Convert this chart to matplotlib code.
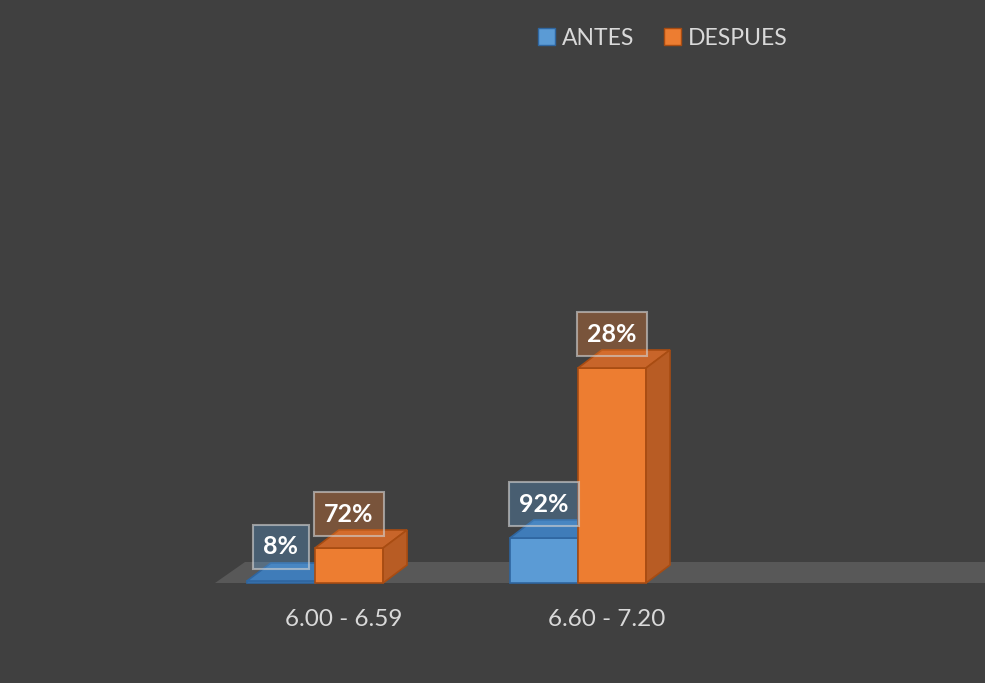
import matplotlib.pyplot as plt
from matplotlib.patches import Polygon, Patch

categories = ["6.00 - 6.59", "6.60 - 7.20"]
antes = [0.2, 4.5]
despues = [3.5, 21.5]
antes_lbl = ["8%", "92%"]
despues_lbl = ["72%", "28%"]

BG = "#404040"
TXT = "#d9d9d9"
series = [
    # front, top, side, edge
    ("ANTES", antes, antes_lbl, ("#5b9bd5", "#3f7cb9", "#3a70a6", "#2f66a0")),
    ("DESPUES", despues, despues_lbl, ("#ed7d31", "#c8652a", "#b85c24", "#a84c12")),
]

W = 0.259   # bar width (category units)
DX = 0.091  # depth offset x
DY = 1.8    # depth offset y

fig = plt.figure(figsize=(9.85, 6.83), dpi=100)
fig.patch.set_facecolor(BG)
ax = fig.add_axes([0, 0, 1, 1])
ax.set_facecolor(BG)
ax.set_xlim(-1.198, 2.548)
ax.set_ylim(-10, 58.3)
ax.axis("off")

# floor
ax.add_patch(Polygon([(-0.380, 0), (2.6, 0), (2.6, 2.1), (-0.266, 2.1)],
                     closed=True, facecolor="#585858", edgecolor="none", zorder=1))


def bar3d(x0, h, cols):
    front, top, side, edge = cols
    x1 = x0 + W
    ax.add_patch(Polygon([(x0, 0), (x1, 0), (x1, h), (x0, h)], closed=True,
                         facecolor=front, edgecolor=edge, lw=1.2, zorder=3))
    ax.add_patch(Polygon([(x0, h), (x1, h), (x1 + DX, h + DY), (x0 + DX, h + DY)],
                         closed=True, facecolor=top, edgecolor=edge, lw=1.2, zorder=3))
    ax.add_patch(Polygon([(x1, 0), (x1 + DX, DY), (x1 + DX, h + DY), (x1, h)],
                         closed=True, facecolor=side, edgecolor=edge, lw=1.2, zorder=3))


for i, cat in enumerate(categories):
    for j, (name, vals, lbls, cols) in enumerate(series):
        x0 = i - W + j * W
        bar3d(x0, vals[i], cols)
        ax.text(x0 + W / 2, vals[i] + 3.4, lbls[i], ha="center", va="center",
                fontsize=18, fontweight="bold", color="white", family="Lato", zorder=5,
                bbox=dict(boxstyle="square,pad=0.42", facecolor=cols[0] + "55",
                          edgecolor="#d0d0d0a0", lw=1.5))
    ax.text(i + 0.11, -3.6, cat, ha="center", va="center", fontsize=17.5,
            color=TXT, family="Lato")

handles = [Patch(facecolor=s[3][0], edgecolor=s[3][3]) for s in series]
fig.legend(handles, [s[0] for s in series], loc="center", bbox_to_anchor=(0.673, 0.944),
           ncol=2, frameon=False, labelcolor=TXT, handlelength=0.75,
           handleheight=0.75, handletextpad=0.3, columnspacing=1.3,
           prop={"family": "Lato", "size": 16.5})

fig.savefig("out.png", dpi=100, facecolor=BG)
